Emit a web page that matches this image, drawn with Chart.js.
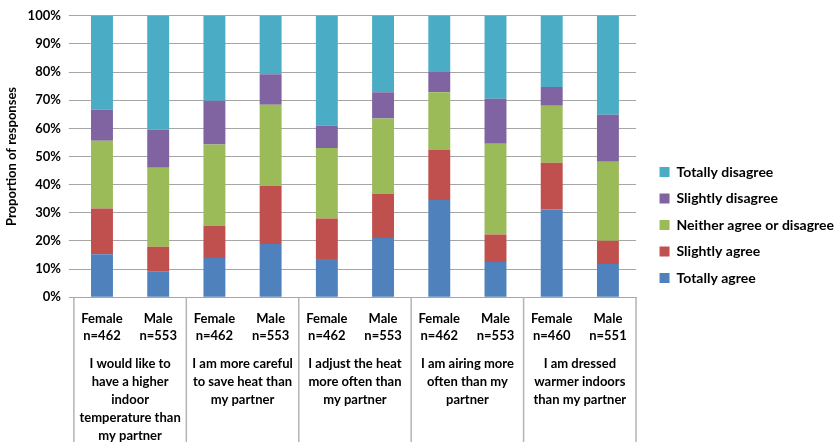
<!DOCTYPE html>
<html>
<head>
<meta charset="utf-8">
<script src="https://cdn.jsdelivr.net/npm/chart.js@4.4.0/dist/chart.umd.min.js"></script>
<style>
  html, body { margin: 0; padding: 0; background: #fff; }
  #wrap { width: 839px; height: 442px; position: relative; }
</style>
</head>
<body>
<div id="wrap"><canvas id="myChart"></canvas></div>
<script>
// datos (porcentajes)
const sexes = ['Female', 'Male', 'Female', 'Male', 'Female', 'Male', 'Female', 'Male', 'Female', 'Male'];
const sampleSizes = ['n=462', 'n=553', 'n=462', 'n=553', 'n=462', 'n=553', 'n=462', 'n=553', 'n=460', 'n=551'];
const questions = [
    ['I would like to', 'have a higher', 'indoor', 'temperature than', 'my partner'],
    ['I am more careful', 'to save heat than', 'my partner'],
    ['I adjust the heat', 'more often than', 'my partner'],
    ['I am airing more', 'often than my', 'partner'],
    ['I am dressed', 'warmer indoors', 'than my partner']
];
const yTicks = [0, 10, 20, 30, 40, 50, 60, 70, 80, 90, 100];

const totallyAgree     = [15.3, 9.0, 13.9, 18.9, 13.6, 21.0, 34.5, 12.5, 31.2, 11.8];
const slightlyAgree    = [16.2, 8.9, 11.5, 20.7, 14.4, 15.8, 17.8, 9.8, 16.6, 8.3];
const neitherAgree     = [24.1, 28.1, 28.9, 28.8, 25.0, 26.7, 20.5, 32.2, 20.2, 28.0];
const slightlyDisagree = [11.0, 13.6, 15.5, 10.8, 7.9, 9.3, 7.2, 16.0, 6.7, 16.7];
const totallyDisagree  = [33.4, 40.4, 30.2, 20.8, 39.1, 27.2, 20.0, 29.5, 25.3, 35.2];

const FONT = 'Lato, "Open Sans", sans-serif';
const gridGray = '#a6a6a6';

const labels = sexes.map((s, i) => [s, sampleSizes[i]]);

// dibuja las líneas separadoras y los textos de cada pregunta
const groupLabels = {
    id: 'groupLabels',
    afterLayout(chart) {
        // mover la leyenda un poco a la derecha y hacia abajo, como en el original
        const lg = chart.legend;
        const dx = chart.chartArea.right + 11 - lg.left;
        const dy = 43;
        lg.left += dx; lg.right += dx;
        lg.top += dy; lg.bottom += dy;
    },
    afterDraw(chart) {
        const ctx = chart.ctx;
        const x = chart.scales.x;
        const area = chart.chartArea;
        ctx.save();
        ctx.strokeStyle = '#b4b4b4';
        ctx.lineWidth = 1.5;
        for (let g = 0; g <= questions.length; g++) {
            let px;
            if (g === 0) px = area.left;
            else if (g === questions.length) px = area.right;
            else px = (x.getPixelForValue(2 * g - 1) + x.getPixelForValue(2 * g)) / 2;
            ctx.beginPath();
            ctx.moveTo(px, area.bottom);
            ctx.lineTo(px, chart.height);
            ctx.stroke();
        }
        ctx.fillStyle = '#000';
        ctx.font = 'bold 13px ' + FONT;
        ctx.textAlign = 'center';
        ctx.textBaseline = 'middle';
        questions.forEach((lines, g) => {
            const cx = (x.getPixelForValue(2 * g) + x.getPixelForValue(2 * g + 1)) / 2;
            lines.forEach((t, j) => {
                ctx.fillText(t, cx, area.bottom + 67 + j * 18);
            });
        });
        ctx.restore();
    }
};

new Chart(document.getElementById('myChart'), {
    type: 'bar',
    data: {
        labels: labels,
        datasets: [
            { label: 'Totally agree', data: totallyAgree, backgroundColor: '#4F81BD' },
            { label: 'Slightly agree', data: slightlyAgree, backgroundColor: '#C0504D' },
            { label: 'Neither agree or disagree', data: neitherAgree, backgroundColor: '#9BBB59' },
            { label: 'Slightly disagree', data: slightlyDisagree, backgroundColor: '#8064A2' },
            { label: 'Totally disagree', data: totallyDisagree, backgroundColor: '#4BACC6' }
        ].map(d => Object.assign(d, { borderWidth: 0, barPercentage: 0.39, categoryPercentage: 1 }))
    },
    options: {
        responsive: true,
        maintainAspectRatio: false,
        animation: false,
        layout: { padding: { top: 7, left: 4, right: 6, bottom: 85 } },
        plugins: {
            tooltip: { enabled: false },
            legend: {
                position: 'right',
                reverse: true,
                labels: {
                    boxWidth: 10,
                    boxHeight: 10,
                    padding: 12.5,
                    color: '#000',
                    font: { family: FONT, size: 14, weight: 'bold' }
                }
            }
        },
        scales: {
            x: {
                stacked: true,
                grid: { display: true, drawOnChartArea: false, drawTicks: false },
                border: { display: true, color: gridGray },
                ticks: {
                    color: '#000',
                    padding: 13,
                    maxRotation: 0,
                    font: { family: FONT, size: 13, weight: 'bold', lineHeight: 1.3 }
                }
            },
            y: {
                stacked: true,
                min: 0,
                max: 100,
                afterBuildTicks: axis => { axis.ticks = yTicks.map(v => ({ value: v })); },
                grid: { color: gridGray, tickLength: 5 },
                border: { display: false },
                ticks: {
                    color: '#000',
                    padding: 8,
                    callback: v => v + '%',
                    font: { family: FONT, size: 13, weight: 'bold' }
                },
                title: {
                    display: true,
                    text: 'Proportion of responses',
                    color: '#000',
                    padding: { top: 0, bottom: 0 },
                    font: { family: FONT, size: 13, weight: 'bold' }
                }
            }
        }
    },
    plugins: [groupLabels]
});
</script>
</body>
</html>
